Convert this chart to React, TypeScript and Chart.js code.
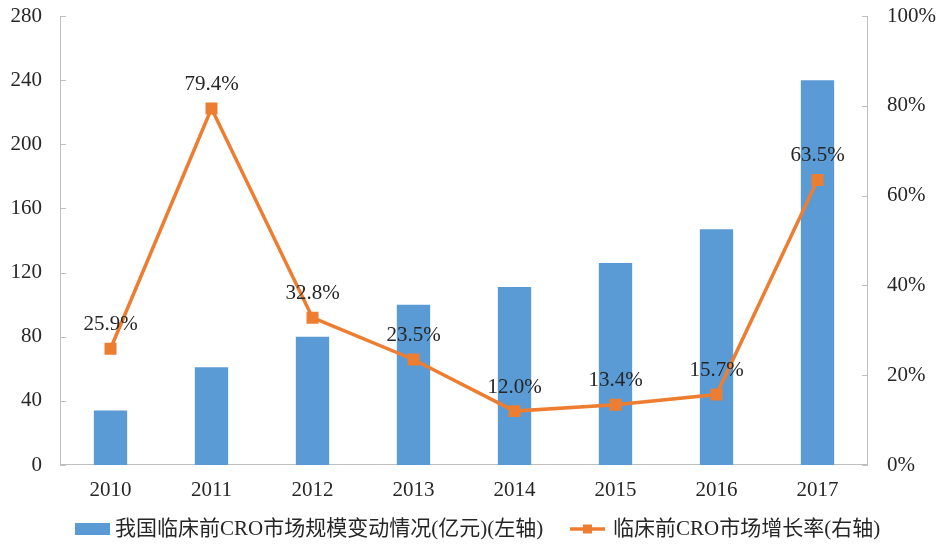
import React, { useEffect, useRef } from "react";
import { Chart, registerables } from "chart.js";

Chart.register(...registerables);

const categories = ["2010", "2011", "2012", "2013", "2014", "2015", "2016", "2017"];
const marketSize = [34, 61, 80, 100, 111, 126, 147, 240];
const growthRate = [25.9, 79.4, 32.8, 23.5, 12.0, 13.4, 15.7, 63.5];
const barLabel = "我国临床前CRO市场规模变动情况(亿元)(左轴)";
const lineLabel = "临床前CRO市场增长率(右轴)";

const BLUE = "#5B9BD5";
const ORANGE = "#ED7D31";
const AXIS = "#BFBFBF";
const TEXT = "#262626";
const FONT = '"Liberation Serif", "Noto Sans CJK SC", serif';

export default function App() {
  const ref = useRef<HTMLCanvasElement | null>(null);

  useEffect(() => {
    if (!ref.current) return;

    const axesPlugin = {
      id: "excelAxes",
      beforeDatasetsDraw(chart: any) {
        const { ctx, chartArea } = chart;
        const { left, right, top, bottom } = chartArea;
        ctx.save();
        ctx.strokeStyle = AXIS;
        ctx.lineWidth = 1;
        ctx.beginPath();
        ctx.moveTo(Math.round(left) + 0.5, top);
        ctx.lineTo(Math.round(left) + 0.5, bottom);
        ctx.moveTo(Math.round(right) - 0.5, top);
        ctx.lineTo(Math.round(right) - 0.5, bottom);
        ctx.moveTo(left, Math.round(bottom) - 0.5);
        ctx.lineTo(right, Math.round(bottom) - 0.5);
        const y = chart.scales.y;
        y.ticks.forEach((t: any) => {
          const py = Math.round(y.getPixelForValue(t.value)) + 0.5;
          ctx.moveTo(left, py);
          ctx.lineTo(left + 6, py);
        });
        const y1 = chart.scales.y1;
        y1.ticks.forEach((t: any) => {
          const py = Math.round(y1.getPixelForValue(t.value)) + 0.5;
          ctx.moveTo(right - 6, py);
          ctx.lineTo(right, py);
        });
        ctx.stroke();
        ctx.restore();
      },
      afterDatasetsDraw(chart: any) {
        const { ctx } = chart;
        const meta = chart.getDatasetMeta(0);
        ctx.save();
        ctx.font = `21px ${FONT}`;
        ctx.fillStyle = TEXT;
        ctx.textAlign = "center";
        ctx.textBaseline = "middle";
        meta.data.forEach((pt: any, i: number) => {
          ctx.fillText(growthRate[i].toFixed(1) + "%", pt.x, pt.y - 24);
        });
        ctx.restore();
      },
      afterDraw(chart: any) {
        const { ctx } = chart;
        const ly = 529;
        ctx.save();
        ctx.font = `21px ${FONT}`;
        ctx.textAlign = "left";
        ctx.textBaseline = "middle";
        ctx.fillStyle = BLUE;
        ctx.fillRect(75, ly - 6, 35, 12);
        ctx.fillStyle = TEXT;
        ctx.fillText(barLabel, 115, ly);
        ctx.strokeStyle = ORANGE;
        ctx.lineWidth = 3.5;
        ctx.beginPath();
        ctx.moveTo(570, ly);
        ctx.lineTo(605, ly);
        ctx.stroke();
        ctx.fillStyle = ORANGE;
        ctx.fillRect(587.5 - 4.5, ly - 4.5, 9, 9);
        ctx.fillStyle = TEXT;
        ctx.fillText(lineLabel, 613, ly);
        ctx.restore();
      },
    };

    const noVertPad = (width: number) => (scale: any) => {
      scale.width = width;
      scale.paddingTop = 0;
      scale.paddingBottom = 0;
    };

    const chart = new Chart(ref.current, {
      type: "bar",
      data: {
        labels: categories,
        datasets: [
          {
            type: "line",
            label: lineLabel,
            data: growthRate,
            yAxisID: "y1",
            borderColor: ORANGE,
            backgroundColor: ORANGE,
            borderWidth: 3.5,
            pointStyle: "rect",
            pointRadius: 6,
            pointHoverRadius: 6,
            tension: 0,
            order: 0,
          } as any,
          {
            type: "bar",
            label: barLabel,
            data: marketSize,
            yAxisID: "y",
            backgroundColor: BLUE,
            borderWidth: 0,
            barPercentage: 0.33,
            categoryPercentage: 1,
            order: 1,
          },
        ],
      },
      options: {
        animation: false,
        responsive: true,
        maintainAspectRatio: false,
        layout: { padding: { top: 16, left: 0, right: 0, bottom: 0 } },
        plugins: {
          legend: { display: false },
          tooltip: { enabled: false },
        },
        scales: {
          x: {
            type: "category",
            offset: true,
            grid: { display: false, drawTicks: false },
            border: { display: false },
            ticks: { font: { family: FONT, size: 21 }, color: TEXT, padding: 13, maxRotation: 0 },
            afterFit(scale: any) {
              scale.height = 79;
              scale.paddingLeft = 0;
              scale.paddingRight = 0;
            },
          },
          y: {
            position: "left",
            min: 0,
            max: 280,
            grid: { display: false, drawTicks: false },
            border: { display: false },
            ticks: { stepSize: 40, font: { family: FONT, size: 21 }, color: TEXT, padding: 18 },
            afterFit: noVertPad(60),
          },
          y1: {
            position: "right",
            min: 0,
            max: 100,
            grid: { display: false, drawTicks: false },
            border: { display: false },
            ticks: {
              stepSize: 20,
              font: { family: FONT, size: 21 },
              color: TEXT,
              padding: 19,
              callback: (v: any) => v + "%",
            },
            afterFit: noVertPad(71),
          },
        },
      },
      plugins: [axesPlugin],
    });

    return () => chart.destroy();
  }, []);

  return (
    <div style={{ position: "fixed", left: 0, top: 0, width: 939, height: 544, background: "#fff" }}>
      <canvas ref={ref} />
    </div>
  );
}
